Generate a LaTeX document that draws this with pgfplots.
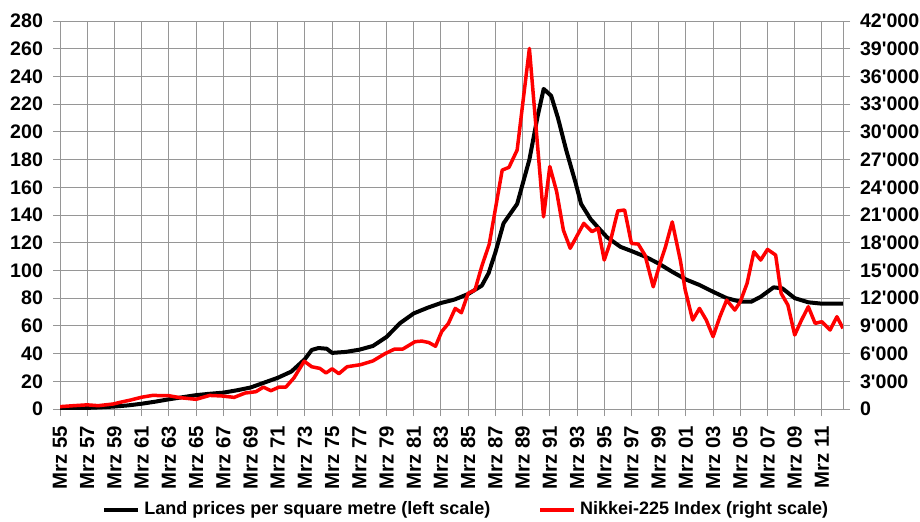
\documentclass[border=0pt]{standalone}
\usepackage{fontspec}
\setmainfont{Liberation Sans}
\usepackage{pgfplots}
\pgfplotsset{compat=1.18}
\definecolor{gridgray}{RGB}{150,150,150}
\definecolor{nred}{RGB}{255,0,0}
\begin{document}
\begin{tikzpicture}
\useasboundingbox (0,0) rectangle (460pt,260.5pt);
\begin{axis}[
  at={(30pt,56pt)}, anchor=south west,
  scale only axis, width=391.5pt, height=194pt,
  xmin=1955, xmax=2012.55, ymin=0, ymax=280,
  ytick={0,20,...,280},
  xtick={1955,1957,...,2011},
  xticklabels={Mrz 55,Mrz 57,Mrz 59,Mrz 61,Mrz 63,Mrz 65,Mrz 67,Mrz 69,Mrz 71,Mrz 73,Mrz 75,Mrz 77,Mrz 79,Mrz 81,Mrz 83,Mrz 85,Mrz 87,Mrz 89,Mrz 91,Mrz 93,Mrz 95,Mrz 97,Mrz 99,Mrz 01,Mrz 03,Mrz 05,Mrz 07,Mrz 09,Mrz 11},
  xtick pos=bottom, ytick pos=left,
  tick align=outside, major tick length=3.5pt,
  major tick style={gridgray, line width=0.5pt},
  axis line style={gridgray, line width=0.5pt},
  xmajorgrids, ymajorgrids,
  major grid style={gridgray, line width=0.5pt},
  /pgf/number format/assume math mode=true,
  ticklabel style={font=\fontsize{9.8pt}{11pt}\selectfont\bfseries},
  xticklabel style={rotate=90, anchor=east, font=\fontsize{10.2pt}{11pt}\selectfont\bfseries},
  xticklabel shift=1.5pt,
  yticklabel style={xshift=-1.5pt},
]
\addplot[black, line width=2pt, line join=round] coordinates {
(1955,0.3) (1956,0.5) (1957,0.8) (1958,1.2) (1959,1.8) (1960,2.6) (1961,3.8) (1962,5.3) (1963,7) (1964,8.5) (1965,10) (1966,11) (1967,11.8) (1968,13.5) (1969,15.5) (1970,19) (1971,22.5) (1972,27) (1973,36) (1973.5,42.6) (1974,44) (1974.6,43.5) (1975,40.5) (1976,41.2) (1977,42.8) (1978,45.5) (1979,52) (1980,62) (1981,69) (1982,73) (1983,76.5) (1984,79) (1985,83) (1986,89) (1986.5,98) (1987,113) (1987.6,134) (1988.6,148) (1989.5,180) (1990.1,211) (1990.55,231) (1991.1,226) (1991.6,210) (1992.2,187) (1992.9,163) (1993.3,148) (1994,137) (1994.5,131.5) (1995.2,124) (1996.2,117) (1997,114) (1998,110) (1999,105) (2000,99) (2001,93.5) (2002,89.5) (2003,84.6) (2004,80) (2005,77.5) (2005.8,77.4) (2006.5,81) (2007.45,87.8) (2008.1,87) (2009,80) (2010,77) (2011,76) (2012.55,76)
};
\end{axis}
\begin{axis}[
  at={(30pt,56pt)}, anchor=south west,
  scale only axis, width=391.5pt, height=194pt,
  xmin=1955, xmax=2012.55, ymin=0, ymax=42000,
  axis x line=none, axis y line*=right,
  scaled y ticks=false,
  ytick={0,3000,...,42000},
  yticklabels={0,3\textquotesingle000,6\textquotesingle000,9\textquotesingle000,12\textquotesingle000,15\textquotesingle000,18\textquotesingle000,21\textquotesingle000,24\textquotesingle000,27\textquotesingle000,30\textquotesingle000,33\textquotesingle000,36\textquotesingle000,39\textquotesingle000,42\textquotesingle000},
  tick align=outside, major tick length=3.5pt,
  major tick style={gridgray, line width=0.5pt},
  axis line style={gridgray, line width=0.5pt},
  yticklabel style={font=\fontsize{9.8pt}{11pt}\selectfont\bfseries, xshift=1.5pt},
  legend columns=2,
  legend style={at={(0.52,-0.26)}, anchor=center, draw=none, fill=none,
    font=\fontsize{9pt}{11pt}\selectfont\bfseries,
    /tikz/every even column/.append style={column sep=22pt}},
  legend cell align=left,
]
\addlegendimage{black, line width=2pt}
\addlegendentry{Land prices per square metre (left scale)}
\addplot[nred, line width=1.75pt, line join=round] coordinates {
(1955.0,255) (1956.0,360) (1957.0,450) (1957.8,360) (1958.9,540) (1959.5,750) (1960.2,975) (1961.0,1275) (1961.8,1470) (1963.0,1440) (1963.8,1230) (1965.0,1050) (1966.0,1470) (1966.9,1410) (1967.8,1260) (1968.6,1725) (1969.4,1875) (1969.95,2370) (1970.5,1980) (1971.1,2370) (1971.6,2370) (1972.2,3375) (1972.95,5175) (1973.5,4575) (1974.1,4395) (1974.55,3900) (1975.0,4350) (1975.5,3825) (1976.1,4575) (1977.1,4800) (1978.0,5205) (1978.9,6000) (1979.6,6495) (1980.2,6495) (1981.1,7290) (1981.6,7350) (1982.1,7200) (1982.6,6795) (1983.05,8370) (1983.55,9270) (1984.05,10890) (1984.5,10425) (1985.0,12525) (1985.5,12885) (1986.0,15450) (1986.55,17850) (1987.5,25860) (1988.0,26160) (1988.6,28035) (1989.5,39030) (1990.54,20805) (1991.0,26250) (1991.5,23550) (1992.0,19350) (1992.5,17400) (1993.5,20100) (1994.1,19200) (1994.55,19560) (1995.0,16125) (1995.4,17850) (1996.0,21450) (1996.5,21540) (1997.0,17925) (1997.5,17850) (1998.0,16650) (1998.6,13230) (1999.1,15750) (1999.5,17550) (2000.0,20250) (2000.6,16050) (2000.95,12900) (2001.5,9630) (2002.0,10890) (2002.5,9630) (2003.0,7830) (2003.5,9990) (2004.0,11790) (2004.6,10710) (2005.0,11610) (2005.5,13605) (2006.0,17025) (2006.5,16125) (2007.0,17280) (2007.6,16665) (2008.0,12525) (2008.5,11250) (2009.0,8010) (2009.5,9630) (2010.0,11070) (2010.5,9270) (2011.0,9450) (2011.6,8550) (2012.1,9990) (2012.55,8730)
};
\addlegendentry{Nikkei-225 Index (right scale)}
\end{axis}
\end{tikzpicture}
\end{document}
